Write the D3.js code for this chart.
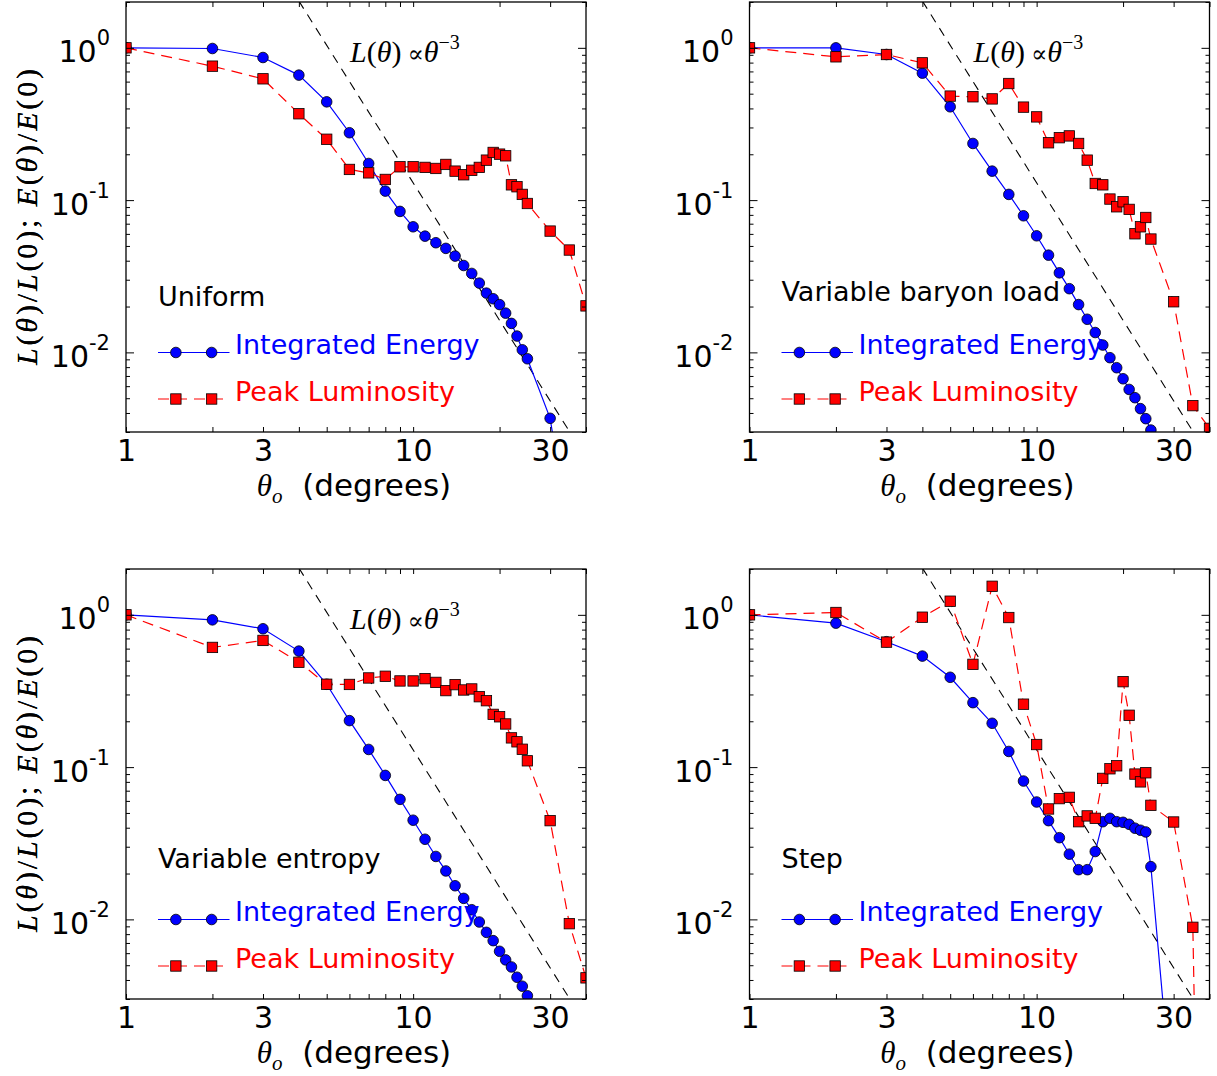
<!DOCTYPE html>
<html><head><meta charset="utf-8">
<script src="https://cdn.jsdelivr.net/npm/d3@7"></script>
<style>
body{margin:0;background:#fff;}
svg{display:block;}
</style></head><body>
<svg id="chart" width="1217" height="1076"></svg>
<script>
// ---------------- DATA ----------------
const theta = [1,2,3,4,5,6,7,8,9,10,11,12,13,14,15,16,17,18,19,20,21,22,23,24,25,30,35,40];

const uniformEnergy = [1.0,0.99,0.864,0.662,0.442,0.277,0.174,0.1146,0.0843,0.0668,0.058,0.0525,0.0482,0.0429,0.0372,0.033,0.0285,0.0245,0.0225,0.0206,0.0181,0.0155,0.0128,0.0104,0.00908,0.00369,0.0006,0.0002];
const uniformPeak   = [1.0,0.758,0.626,0.369,0.251,0.159,0.151,0.1367,0.1655,0.1655,0.164,0.1614,0.1715,0.155,0.1467,0.157,0.164,0.183,0.2056,0.2004,0.1954,0.126,0.1224,0.109,0.095,0.0626,0.047,0.0202];

const baryonEnergy  = [1.0,1.0,0.904,0.682,0.410,0.2355,0.155,0.109,0.0789,0.0583,0.0435,0.0333,0.0262,0.0206,0.0165,0.0135,0.01117,0.00923,0.00793,0.00671,0.00571,0.00504,0.00427,0.00367,0.00309,0.0011,0.0004,0.00015];
const baryonPeak    = [1.0,0.873,0.904,0.797,0.482,0.477,0.462,0.583,0.408,0.352,0.238,0.257,0.264,0.2355,0.183,0.1286,0.126,0.1016,0.0904,0.0975,0.0869,0.0601,0.0668,0.0769,0.0555,0.0215,0.00447,0.00317];

const entropyEnergy = [1.0,0.927,0.810,0.578,0.350,0.202,0.1306,0.0882,0.0614,0.0448,0.0336,0.0259,0.0208,0.01663,0.01374,0.01157,0.00961,0.00822,0.00725,0.00617,0.00542,0.00487,0.00417,0.00364,0.00315,0.001,0.0004,0.00015];
const entropyPeak   = [1.0,0.611,0.679,0.488,0.350,0.349,0.385,0.395,0.368,0.368,0.381,0.360,0.318,0.348,0.321,0.326,0.290,0.273,0.222,0.214,0.192,0.1556,0.1466,0.131,0.110,0.0445,0.00937,0.00413];

const stepEnergy    = [1.0,0.882,0.666,0.536,0.389,0.265,0.194,0.1267,0.0810,0.0590,0.0445,0.0344,0.0268,0.0212,0.0212,0.0279,0.0438,0.0461,0.0438,0.0434,0.0421,0.0397,0.0385,0.0375,0.0222,0.00047,0.0001,0.00005];
const stepPeak      = [1.0,1.036,0.662,0.965,1.229,0.473,1.54,0.960,0.259,0.1407,0.0531,0.0621,0.0633,0.0438,0.0478,0.0461,0.0843,0.0975,0.102,0.364,0.219,0.090,0.080,0.0918,0.0561,0.0436,0.00887,1e-8];

// guide line L ∝ θ^-3 (two end points)
const guideTheta = [4, 40];
const guideValue = [2.03, 0.00203];

const panelTitles = ["Uniform", "Variable baryon load", "Variable entropy", "Step"];
const showGuideLabel = [true, true, true, false];
const seriesNames = ["Integrated Energy", "Peak Luminosity"];

// tick values / labels
const xTickValues = [1,2,3,4,5,6,7,8,9,10,20,30,40];
const xTickLabels = [1,3,10,30];
const yMajorTicks = [1, 0.1, 0.01];
const yMajorExponents = ["0", "-1", "-2"];
const yMinorTicks = [0.003,0.004,0.005,0.006,0.007,0.008,0.009,0.02,0.03,0.04,0.05,0.06,0.07,0.08,0.09,0.2,0.3,0.4,0.5,0.6,0.7,0.8,0.9,2];

// ---------------- LAYOUT ----------------
const W = 460, H = 430;
const origins = [[126,2],[749.5,2],[126,569],[749.5,569]];
const titleBaseline = [304, 299, 299, 299];
const BLUE = "#0000ff", RED = "#ff0000";
const TICKFONT = "'DejaVu Sans', sans-serif";
const SERIF = "'Liberation Serif', 'DejaVu Serif', serif";
const DASH = "11,7";

const energyAll = [uniformEnergy, baryonEnergy, entropyEnergy, stepEnergy];
const peakAll = [uniformPeak, baryonPeak, entropyPeak, stepPeak];

const svg = d3.select("#chart");
const x = d3.scaleLog().domain([1, 40]).range([0, W]);
const y = d3.scaleLog().domain([0.003, 2]).range([H, 0]);

const line = d3.line().x(d => x(d[0])).y(d => y(d[1]));

function styleAxis(g) {
  g.select(".domain").remove();
  g.attr("font-family", TICKFONT).attr("font-size", 30);
  g.selectAll(".tick line").attr("stroke", "#000").attr("stroke-width", 1);
  g.selectAll(".tick text").attr("fill", "#000");
}

function drawSquares(g, pts, cx, cy) {
  g.selectAll(null).data(pts).enter().append("rect")
    .attr("x", d => cx(d) - 5.2).attr("y", d => cy(d) - 5.2)
    .attr("width", 10.4).attr("height", 10.4)
    .attr("fill", RED).attr("stroke", "#000").attr("stroke-width", 0.8);
}
function drawCircles(g, pts, cx, cy) {
  g.selectAll(null).data(pts).enter().append("circle")
    .attr("cx", cx).attr("cy", cy).attr("r", 5.3)
    .attr("fill", BLUE).attr("stroke", "#000").attr("stroke-width", 0.8);
}

origins.forEach((o, i) => {
  const g = svg.append("g").attr("transform", `translate(${o[0]},${o[1]})`);
  const clipId = "clip" + i;
  g.append("clipPath").attr("id", clipId).append("rect").attr("width", W).attr("height", H);
  const plot = g.append("g").attr("clip-path", `url(#${clipId})`);

  // guide line
  plot.append("path")
    .datum(guideTheta.map((t, k) => [t, guideValue[k]]))
    .attr("d", line).attr("fill", "none").attr("stroke", "#000")
    .attr("stroke-width", 1.1).attr("stroke-dasharray", "9,7");

  const eData = theta.map((t, k) => [t, energyAll[i][k]]);
  const pData = theta.map((t, k) => [t, peakAll[i][k]]);

  plot.append("path").datum(eData).attr("d", line)
    .attr("fill", "none").attr("stroke", BLUE).attr("stroke-width", 1.2);
  drawCircles(plot, eData, d => x(d[0]), d => y(d[1]));

  plot.append("path").datum(pData).attr("d", line)
    .attr("fill", "none").attr("stroke", RED).attr("stroke-width", 1.2)
    .attr("stroke-dasharray", DASH);
  drawSquares(plot, pData, d => x(d[0]), d => y(d[1]));

  // axes
  const fmtX = d => xTickLabels.includes(d) ? String(d) : "";
  g.append("g").attr("transform", `translate(0,${H})`)
    .call(d3.axisBottom(x).tickValues(xTickValues).tickSize(-5).tickPadding(8).tickFormat(fmtX))
    .call(styleAxis);
  g.append("g")
    .call(d3.axisTop(x).tickValues(xTickValues).tickSize(-5).tickFormat(""))
    .call(styleAxis);

  const yl = g.append("g")
    .call(d3.axisLeft(y).tickValues(yMajorTicks).tickSize(-8).tickPadding(16).tickFormat(""))
    .call(styleAxis);
  yl.selectAll(".tick text").each(function(d) {
    const t = d3.select(this).attr("dy", 14);
    t.append("tspan").text("10");
    t.append("tspan").attr("dy", -17).attr("font-size", 21).text(yMajorExponents[yMajorTicks.indexOf(d)]);
  });
  g.append("g").call(d3.axisLeft(y).tickValues(yMinorTicks).tickSize(-4).tickFormat("")).call(styleAxis);
  g.append("g").attr("transform", `translate(${W},0)`)
    .call(d3.axisRight(y).tickValues(yMajorTicks).tickSize(-8).tickFormat("")).call(styleAxis);
  g.append("g").attr("transform", `translate(${W},0)`)
    .call(d3.axisRight(y).tickValues(yMinorTicks).tickSize(-4).tickFormat("")).call(styleAxis);

  // frame
  g.append("rect").attr("width", W).attr("height", H)
    .attr("fill", "none").attr("stroke", "#000").attr("stroke-width", 1.3);

  // x label
  const xl = g.append("text").attr("x", W / 2 - 2).attr("y", H + 64)
    .attr("text-anchor", "middle").attr("font-size", 31).attr("fill", "#000");
  xl.append("tspan").attr("font-family", SERIF).attr("font-style", "italic").text("θ");
  xl.append("tspan").attr("font-family", SERIF).attr("font-style", "italic")
    .attr("font-size", 21).attr("dy", 7).text("o");
  xl.append("tspan").attr("font-family", TICKFONT).attr("dy", -7).text("\u00a0\u00a0(degrees)");

  // y label
  const ylab = g.append("text")
    .attr("transform", `translate(${37 - o[0]},${H / 2}) rotate(-90)`)
    .attr("text-anchor", "middle").attr("font-family", SERIF).attr("font-size", 30)
    .attr("textLength", 296).attr("lengthAdjust", "spacing").attr("fill", "#000");
  [["L",1],["(",0],["θ",1],[")/",0],["L",1],["(0); ",0],["E",1],["(",0],["θ",1],[")/",0],["E",1],["(0)",0]]
    .forEach(p => ylab.append("tspan").attr("font-style", p[1] ? "italic" : "normal").text(p[0]));

  // guide label
  if (showGuideLabel[i]) {
    const gl = g.append("text").attr("x", 224).attr("y", 60)
      .attr("font-family", SERIF).attr("font-size", 30).attr("fill", "#000");
    gl.append("tspan").attr("font-style", "italic").text("L");
    gl.append("tspan").text("(");
    gl.append("tspan").attr("font-style", "italic").text("θ");
    gl.append("tspan").text(")\u2009");
    gl.append("tspan").attr("font-family", "'DejaVu Serif', serif").attr("font-size", 24).text("\u221d");
    gl.append("tspan").attr("font-style", "italic").text("θ");
    gl.append("tspan").attr("font-size", 20).attr("dy", -13).text("\u22123");
  }

  // legend
  g.append("text").attr("x", 32).attr("y", titleBaseline[i])
    .attr("font-family", TICKFONT).attr("font-size", 27).attr("fill", "#000").text(panelTitles[i]);

  const lx0 = 32, lx1 = 103.5, ly1 = 350.5, ly2 = 397;
  const legPts = [lx0 + (lx1 - lx0) * 0.25, lx0 + (lx1 - lx0) * 0.75];
  g.append("line").attr("x1", lx0).attr("x2", lx1).attr("y1", ly1).attr("y2", ly1)
    .attr("stroke", BLUE).attr("stroke-width", 1.2);
  drawCircles(g, legPts, d => d, () => ly1);
  g.append("text").attr("x", 109).attr("y", ly1 + 1.5).attr("font-family", TICKFONT)
    .attr("font-size", 27).attr("fill", BLUE).text(seriesNames[0]);

  g.append("line").attr("x1", lx0).attr("x2", lx1).attr("y1", ly2).attr("y2", ly2)
    .attr("stroke", RED).attr("stroke-width", 1.2).attr("stroke-dasharray", DASH);
  drawSquares(g, legPts, d => d, () => ly2);
  g.append("text").attr("x", 109).attr("y", ly2 + 2).attr("font-family", TICKFONT)
    .attr("font-size", 27).attr("fill", RED).text(seriesNames[1]);
});
</script>
</body></html>
